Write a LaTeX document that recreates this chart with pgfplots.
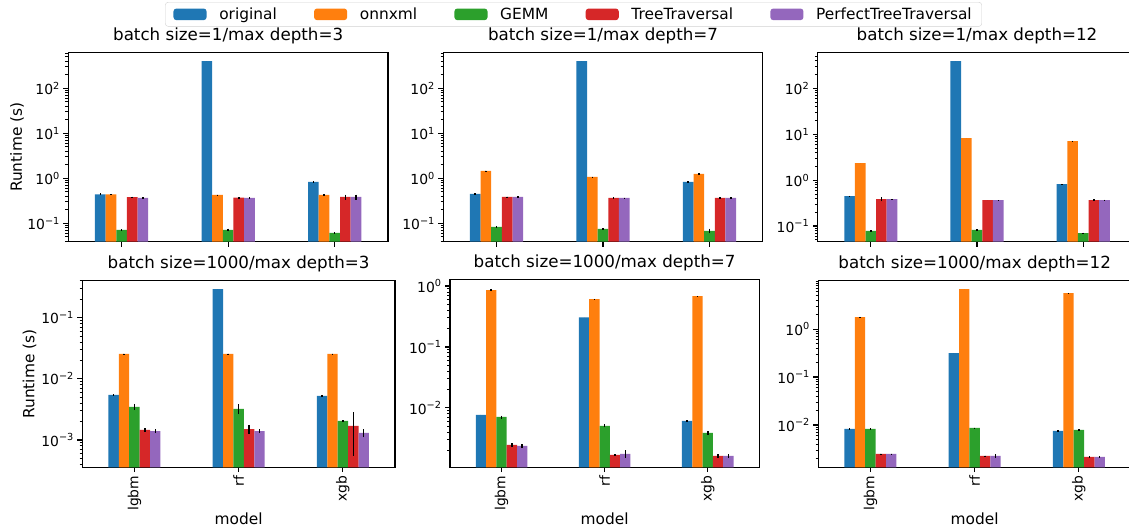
\documentclass[border=0pt]{standalone}
\usepackage{fontspec}
\setmainfont{DejaVu Sans}
\usepackage{pgfplots}
\usepackage{pgfplotstable}
\pgfplotsset{compat=1.18}
\definecolor{c1}{HTML}{1F77B4}
\definecolor{c2}{HTML}{FF7F0E}
\definecolor{c3}{HTML}{2CA02C}
\definecolor{c4}{HTML}{D62728}
\definecolor{c5}{HTML}{9467BD}
\newcommand\fTick{\fontsize{13.9}{16}\selectfont}
\newcommand\fLab{\fontsize{15.4}{18}\selectfont}
\newcommand\fTit{\fontsize{16.7}{20}\selectfont}
\newcommand\tp[1]{10\textsuperscript{#1}}

% columns: x, original, onnxml, GEMM, TreeTraversal, PerfectTreeTraversal (with errors)
\pgfplotstableread{
x o oe n ne g ge t te p pe
0 0.44 0.02 0.44 0.005 0.071 0.002 0.38 0.01 0.366 0.01
1 404 0 0.43 0.005 0.071 0.005 0.37 0.01 0.366 0.01
2 0.83 0.02 0.43 0.02 0.061 0.002 0.385 0.05 0.385 0.05
}\tAa
\pgfplotstableread{
x o oe n ne g ge t te p pe
0 0.45 0.01 1.46 0.03 0.083 0.005 0.385 0.005 0.385 0.01
1 404 0 1.07 0.01 0.075 0.003 0.366 0.015 0.366 0.005
2 0.83 0.02 1.25 0.03 0.068 0.008 0.366 0.01 0.366 0.02
}\tAb
\pgfplotstableread{
x o oe n ne g ge t te p pe
0 0.45 0.005 2.35 0 0.078 0.002 0.385 0.04 0.385 0.003
1 394 0 8.2 0 0.082 0.003 0.366 0 0.366 0.003
2 0.82 0.01 7.1 0.1 0.070 0.002 0.366 0.015 0.366 0.01
}\tAc
\pgfplotstableread{
x o oe n ne g ge t te p pe
0 0.00547 0.0001 0.0256 0.0003 0.00348 0.0004 0.00146 0.0001 0.0014 0.0001
1 0.294 0 0.0256 0.0003 0.00323 0.0006 0.00151 0.00025 0.0014 0.0001
2 0.00528 0.0002 0.0256 0.0002 0.00206 0.00005 0.0017 0.00115 0.0013 0.0002
}\tBa
\pgfplotstableread{
x o oe n ne g ge t te p pe
0 0.00768 0 0.86 0.04 0.0071 0.0004 0.00247 0.00015 0.00238 0.00015
1 0.306 0 0.61 0.005 0.00507 0.0003 0.0017 0.00005 0.00176 0.00025
2 0.00612 0.0001 0.685 0.005 0.00389 0.0003 0.00163 0.0001 0.00163 0.0001
}\tBb
\pgfplotstableread{
x o oe n ne g ge t te p pe
0 0.00826 0.0003 1.78 0.02 0.00826 0.0002 0.00249 0.00005 0.00249 0.00005
1 0.316 0 6.8 0 0.00866 0.0001 0.00226 0.00003 0.00226 0.0002
2 0.0075 0.0002 5.62 0.05 0.00787 0.0003 0.00215 0.0001 0.00215 0.0001
}\tBc

\pgfplotsset{
  every axis/.append style={
    scale only axis,
    xmin=-0.5, xmax=2.5, xtick={0,1,2},
    tick pos=left, tick align=outside,
    axis line style={line width=1.1pt, black},
    major tick style={line width=1.1pt, black},
    minor tick style={line width=0.8pt, black},
    major tick length=4.9pt, minor tick length=2.8pt,
    tick label style={font=\fTick},
    label style={font=\fLab},
    title style={at={(0.5,1)}, anchor=base, yshift=6pt, font=\fTit},
  },
}
\newcommand\bars[1]{%
  \addplot[ybar, bar width=0.1, bar shift=0pt, fill=c1, draw=none, area legend, error bars/.cd, y dir=both, y explicit, error mark=none, error bar style={line width=1.5pt, black}] table[x expr=\thisrow{x}-0.2, y=o, y error=oe]{#1};
  \addplot[ybar, bar width=0.1, bar shift=0pt, fill=c2, draw=none, area legend, error bars/.cd, y dir=both, y explicit, error mark=none, error bar style={line width=1.5pt, black}] table[x expr=\thisrow{x}-0.1, y=n, y error=ne]{#1};
  \addplot[ybar, bar width=0.1, bar shift=0pt, fill=c3, draw=none, area legend, error bars/.cd, y dir=both, y explicit, error mark=none, error bar style={line width=1.5pt, black}] table[x expr=\thisrow{x}, y=g, y error=ge]{#1};
  \addplot[ybar, bar width=0.1, bar shift=0pt, fill=c4, draw=none, area legend, error bars/.cd, y dir=both, y explicit, error mark=none, error bar style={line width=1.5pt, black}] table[x expr=\thisrow{x}+0.1, y=t, y error=te]{#1};
  \addplot[ybar, bar width=0.1, bar shift=0pt, fill=c5, draw=none, area legend, error bars/.cd, y dir=both, y explicit, error mark=none, error bar style={line width=1.5pt, black}] table[x expr=\thisrow{x}+0.2, y=p, y error=pe]{#1};
}

\begin{document}
\begin{tikzpicture}
\clip (0pt,0pt) rectangle (1129pt,529pt);

\begin{axis}[at={(68.3pt,287.3pt)}, anchor=south west, width=319.7pt, height=189pt,
  ymode=log, log origin=infty, ymin=0.039, ymax=620,
  ytick={0.1,1,10,100}, yticklabels={\tp{−1},\tp{0},\tp{1},\tp{2}},
  minor ytick={0.04,0.05,0.06,0.07,0.08,0.09,0.2,0.3,0.4,0.5,0.6,0.7,0.8,0.9,2,3,4,5,6,7,8,9,20,30,40,50,60,70,80,90,200,300,400,500,600},
  xticklabels={,,},
  title={batch size=1/max depth=3},
  ylabel={Runtime (s)},
  ylabel style={at={(axis description cs:-0.145,0.5)}, anchor=base},
  legend columns=5,
  legend image post style={xscale=1.94, yscale=2.05, draw opacity=0},
  legend style={at={(axis description cs:1.5803,1.268)}, anchor=north,
    draw=black!18, rounded corners=3pt, fill=white, font=\fLab,
    inner xsep=8pt, inner ysep=3.5pt,
    column sep=10.5pt,
    /tikz/every even column/.append style={column sep=35pt}},
]
\bars{\tAa}
\legend{original,onnxml,GEMM,TreeTraversal,PerfectTreeTraversal}
\end{axis}

\begin{axis}[at={(443.3pt,287.3pt)}, anchor=south west, width=319.4pt, height=189pt,
  ymode=log, log origin=infty, ymin=0.039, ymax=620,
  ytick={0.1,1,10,100}, yticklabels={\tp{−1},\tp{0},\tp{1},\tp{2}},
  minor ytick={0.04,0.05,0.06,0.07,0.08,0.09,0.2,0.3,0.4,0.5,0.6,0.7,0.8,0.9,2,3,4,5,6,7,8,9,20,30,40,50,60,70,80,90,200,300,400,500,600},
  xticklabels={,,},
  title={batch size=1/max depth=7}]
\bars{\tAb}
\end{axis}

\begin{axis}[at={(817.7pt,287.3pt)}, anchor=south west, width=318.6pt, height=189pt,
  ymode=log, log origin=infty, ymin=0.0456, ymax=598,
  ytick={0.1,1,10,100}, yticklabels={\tp{−1},\tp{0},\tp{1},\tp{2}},
  minor ytick={0.05,0.06,0.07,0.08,0.09,0.2,0.3,0.4,0.5,0.6,0.7,0.8,0.9,2,3,4,5,6,7,8,9,20,30,40,50,60,70,80,90,200,300,400,500},
  xticklabels={,,},
  title={batch size=1/max depth=12}]
\bars{\tAc}
\end{axis}

\begin{axis}[at={(82.3pt,61.7pt)}, anchor=south west, width=312.7pt, height=186.6pt,
  ymode=log, log origin=infty, ymin=0.000357, ymax=0.403,
  ytick={0.001,0.01,0.1}, yticklabels={\tp{−3},\tp{−2},\tp{−1}},
  minor ytick={0.0004,0.0005,0.0006,0.0007,0.0008,0.0009,0.002,0.003,0.004,0.005,0.006,0.007,0.008,0.009,0.02,0.03,0.04,0.05,0.06,0.07,0.08,0.09,0.2,0.3,0.4},
  xticklabels={lgbm,rf,xgb},
  xticklabel style={rotate=90, anchor=east},
  xlabel=model,
  xlabel style={at={(axis description cs:0.5,0)}, anchor=base, yshift=-57pt},
  title={batch size=1000/max depth=3},
  ylabel={Runtime (s)},
  ylabel style={at={(axis description cs:-0.153,0.5)}, anchor=base}]
\bars{\tBa}
\end{axis}

\begin{axis}[at={(450pt,61.7pt)}, anchor=south west, width=309.3pt, height=188pt,
  ymode=log, log origin=infty, ymin=0.00106, ymax=1.29,
  ytick={0.01,0.1,1}, yticklabels={\tp{−2},\tp{−1},\tp{0}},
  minor ytick={0.002,0.003,0.004,0.005,0.006,0.007,0.008,0.009,0.02,0.03,0.04,0.05,0.06,0.07,0.08,0.09,0.2,0.3,0.4,0.5,0.6,0.7,0.8,0.9},
  xticklabels={lgbm,rf,xgb},
  xticklabel style={rotate=90, anchor=east},
  xlabel=model,
  xlabel style={at={(axis description cs:0.5,0)}, anchor=base, yshift=-57pt},
  title={batch size=1000/max depth=7}]
\bars{\tBb}
\end{axis}

\begin{axis}[at={(818.3pt,61.7pt)}, anchor=south west, width=312.7pt, height=186.6pt,
  ymode=log, log origin=infty, ymin=0.00131, ymax=10.2,
  ytick={0.01,0.1,1}, yticklabels={\tp{−2},\tp{−1},\tp{0}},
  minor ytick={0.002,0.003,0.004,0.005,0.006,0.007,0.008,0.009,0.02,0.03,0.04,0.05,0.06,0.07,0.08,0.09,0.2,0.3,0.4,0.5,0.6,0.7,0.8,0.9,2,3,4,5,6,7,8,9,10},
  xticklabels={lgbm,rf,xgb},
  xticklabel style={rotate=90, anchor=east},
  xlabel=model,
  xlabel style={at={(axis description cs:0.5,0)}, anchor=base, yshift=-57pt},
  title={batch size=1000/max depth=12}]
\bars{\tBc}
\end{axis}
\end{tikzpicture}
\end{document}
